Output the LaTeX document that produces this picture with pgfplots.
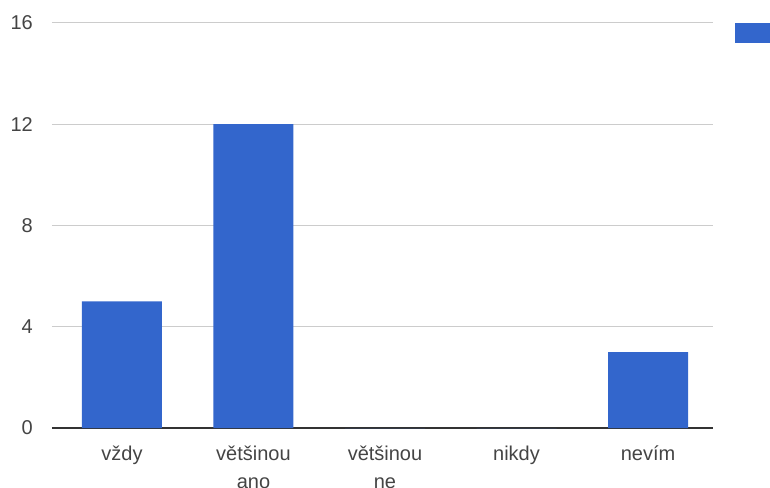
\documentclass[border=0pt]{standalone}
\usepackage{fontspec}
\setmainfont{Liberation Sans}
\usepackage{pgfplots}
\pgfplotsset{compat=1.18}
\definecolor{barblue}{HTML}{3366CC}
\definecolor{gridgray}{HTML}{CCCCCC}
\definecolor{axisgray}{HTML}{333333}
\definecolor{labelgray}{HTML}{444444}
\begin{document}
\begin{tikzpicture}
\begin{axis}[
  scale only axis,
  width=661pt, height=405pt,
  xmin=-0.532, xmax=4.494,
  ymin=0, ymax=16,
  ytick={0,4,8,12,16},
  xtick={0,1,2,3,4},
  xticklabels={vždy, většinou\\ano, většinou\\ne, nikdy, nevím},
  axis x line*=bottom,
  axis y line*=left,
  y axis line style={draw=none},
  x axis line style={draw=axisgray, line width=1.2pt, -},
  ymajorgrids,
  grid style={gridgray, line width=1pt},
  major tick length=0pt,
  tick style={draw=none},
  /pgf/number format/assume math mode=true,
  ticklabel style={font=\fontsize{20}{27.5}\selectfont, text=labelgray},
  xticklabel style={align=center, anchor=north, inner sep=0pt, yshift=-18pt},
  yticklabel style={anchor=east, inner sep=0pt, xshift=-19pt},
  ybar, bar width=80pt,
  legend style={at={(rel axis cs:1.0333,1)}, anchor=north west, draw=none, fill=none, inner sep=0pt, outer sep=0pt,
    font=\fontsize{20}{24}\selectfont},
  legend image code/.code={\fill[barblue] (0pt,-10pt) rectangle (40pt,10pt);},
  clip=false,
]
\addplot[fill=barblue, draw=none] coordinates {(0,5) (1,12) (2,0) (3,0) (4,3)};
\addlegendentry{}
\end{axis}
\pgfresetboundingbox
\path[use as bounding box] (current axis.south west) ++(-52pt,-59pt) rectangle ++(770pt,487pt);
\end{tikzpicture}
\end{document}
